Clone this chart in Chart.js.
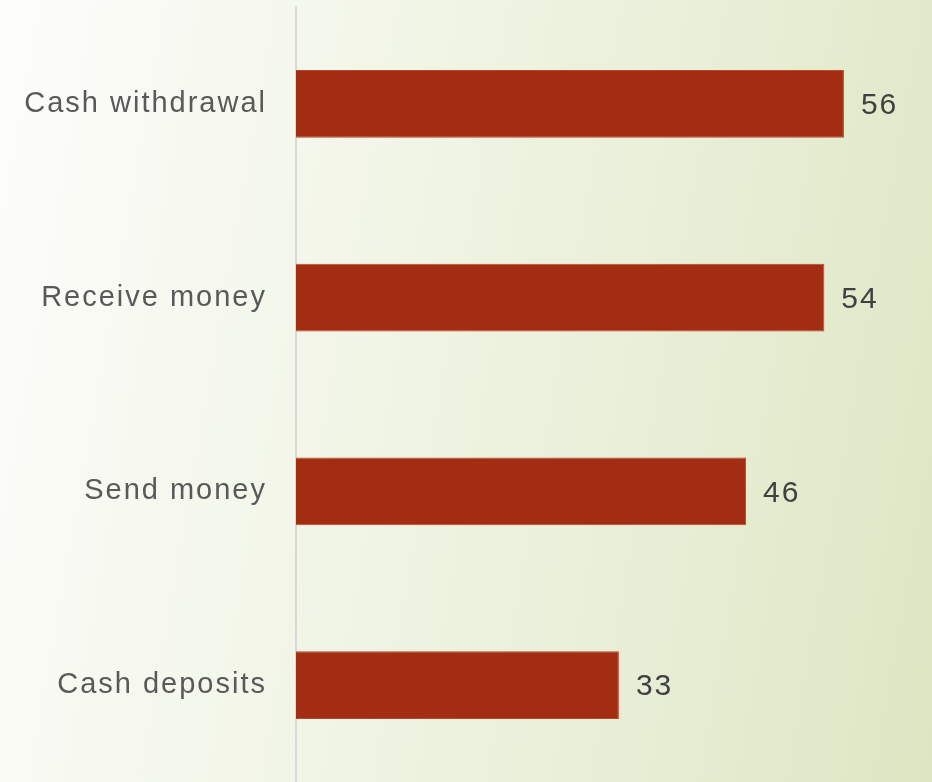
<!DOCTYPE html>
<html>
<head>
<meta charset="utf-8">
<script src="https://cdn.jsdelivr.net/npm/chart.js@4"></script>
<style>
  html, body { margin: 0; padding: 0; }
  body {
    width: 932px; height: 782px; overflow: hidden;
    background: linear-gradient(100deg, #fdfdfb 0%, #f1f5e6 40%, #e6edd3 75%, #dce6c2 100%);
  }
  #wrap { position: relative; width: 932px; height: 782px; }
</style>
</head>
<body>
<div id="wrap"><canvas id="chart"></canvas></div>
<script>
const categories = [ 'Cash withdrawal', 'Receive money', 'Send money', 'Cash deposits' ];
const values = [ 56, 54, 46, 33 ];

const barColor = '#a32d12';
const barEdge = '#b9472a';
const fontFamily = '"Liberation Sans", Arial, sans-serif';

// wider tracking on every piece of text
const spacing = {
	id: 'spacing',
	beforeDraw( chart ) {
		chart.ctx.letterSpacing = '2px';
	}
};

// value printed just past the end of each bar
const valueLabels = {
	id: 'valueLabels',
	afterDatasetsDraw( chart ) {
		const ctx = chart.ctx;
		const meta = chart.getDatasetMeta( 0 );
		ctx.save();
		ctx.letterSpacing = '2px';
		ctx.font = '30px ' + fontFamily;
		ctx.fillStyle = '#404040';
		ctx.textAlign = 'left';
		ctx.textBaseline = 'middle';
		meta.data.forEach( ( bar, i ) => {
			ctx.fillText( String( values[ i ] ), bar.x + 17, bar.y + 2 );
		} );
		ctx.restore();
	}
};

new Chart( document.getElementById( 'chart' ), {
	type: 'bar',
	data: {
		labels: categories,
		datasets: [ {
			data: values,
			backgroundColor: barColor,
			borderColor: barEdge,
			borderWidth: 1,
			categoryPercentage: 1,
			barPercentage: 0.35
		} ]
	},
	options: {
		indexAxis: 'y',
		responsive: true,
		maintainAspectRatio: false,
		animation: false,
		layout: { padding: { top: 7, right: 0, bottom: 0, left: 0 } },
		plugins: {
			legend: { display: false },
			tooltip: { enabled: false }
		},
		scales: {
			x: {
				display: false,
				min: 0,
				max: 65
			},
			y: {
				afterFit( scale ) {
					scale.width = 296;
					scale.paddingTop = 0;
					scale.paddingBottom = 0;
				},
				grid: { display: false, drawTicks: false },
				border: { display: true, color: '#d9d9d9', width: 2 },
				ticks: {
					padding: 29,
					color: '#595959',
					font: { family: fontFamily, size: 29 }
				}
			}
		}
	},
	plugins: [ spacing, valueLabels ]
} );
</script>
</body>
</html>
